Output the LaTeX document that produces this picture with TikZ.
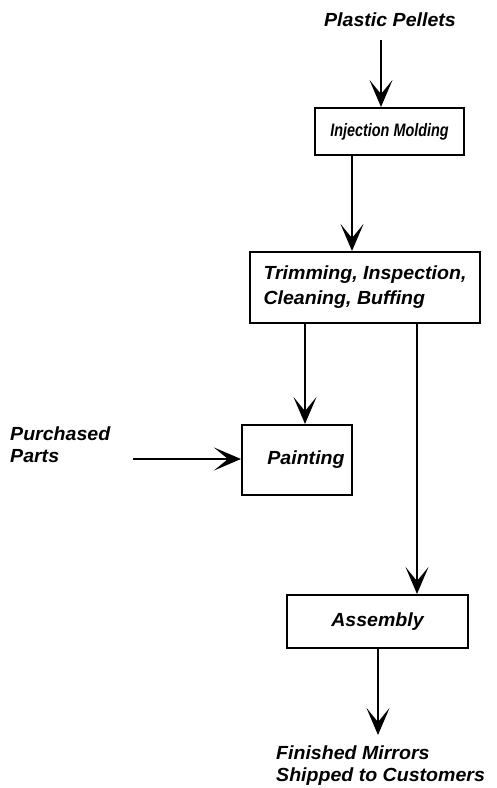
\documentclass[tikz,border=0pt]{standalone}
\usepackage{fontspec}
\setmainfont{Liberation Sans}
\newfontfamily\widefam{Liberation Sans}[FakeStretch=1.03]
\newfontfamily\narrowfam{Liberation Sans}[FakeStretch=0.8]
\usetikzlibrary{arrows.meta}
\begin{document}
\begin{tikzpicture}[x=1pt,y=-1pt,
  font=\widefam\fontsize{19}{22}\selectfont\bfseries\itshape,
  procbox/.style={draw, line width=2pt, inner sep=0pt, align=center},
  flow/.style={line width=2.5pt, -{Stealth[length=27pt,width=23pt,inset=14pt]}},
  lbl/.style={inner sep=0pt, align=left}]
\useasboundingbox (0,0) rectangle (497,788);
% boxes
\node[procbox, minimum width=149pt, minimum height=47pt,
  font=\narrowfam\fontsize{18}{22}\selectfont\bfseries\itshape] (inj) at (389.5,131.5) {Injection Molding};
\node[procbox, minimum width=230pt, minimum height=71pt, align=left,
  font=\widefam\fontsize{19}{25}\selectfont\bfseries\itshape] (trim) at (365,287.5)
  {Trimming, Inspection,\\Cleaning, Buffing};
\node[procbox, minimum width=110pt, minimum height=70pt] (paint) at (297,460)
  {\hspace*{9pt}Painting\hspace*{-9pt}};
\node[procbox, minimum width=181pt, minimum height=53pt] (asm) at (377.5,621.5) {Assembly};
% labels
\node[lbl, anchor=base] (pel) at (390,26) {Plastic Pellets};
\node[lbl, anchor=north west] (pp) at (10,427) {Purchased\\Parts};
\node[lbl, anchor=north west] (fin) at (276,746) {Finished Mirrors\\Shipped to Customers};
% helper coordinates
\coordinate (xa) at (381,0);
\coordinate (xb) at (352,0);
\coordinate (xc) at (305,0);
\coordinate (xd) at (417,0);
\coordinate (xe) at (378,0);
\coordinate (ya) at (0,40);
\coordinate (yb) at (0,459);
\coordinate (ppend) at (133,459);
\coordinate (finend) at (378,735);
% connectors
\draw[flow] (ya -| xa) -- (inj.north -| xa);
\draw[flow] (inj.south -| xb) -- (trim.north -| xb);
\draw[flow] (trim.south -| xc) -- (paint.north -| xc);
\draw[flow] (trim.south -| xd) -- (asm.north -| xd);
\draw[flow] (ppend) -- (paint.west |- yb);
\draw[flow] (asm.south -| xe) -- (finend);
\end{tikzpicture}
\end{document}
